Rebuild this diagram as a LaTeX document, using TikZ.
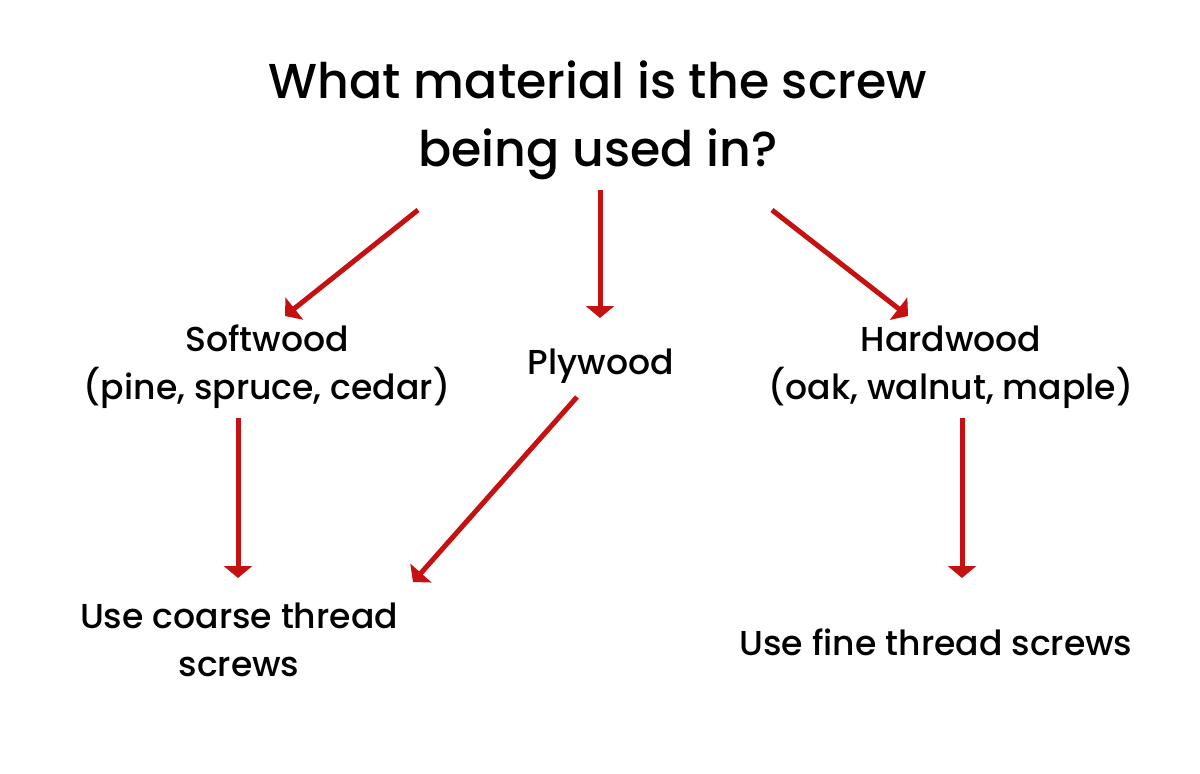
\documentclass[tikz,border=0pt]{standalone}
\usepackage{fontspec}
\setmainfont{Poppins}[UprightFont=* Medium]
\usetikzlibrary{arrows.meta}
\definecolor{arrred}{RGB}{197,17,17}
\tikzset{
  arr/.style={draw=arrred, line width=2.5pt, -{Triangle[width=14pt,length=6pt]}},
  ttl/.style={align=center, font=\fontsize{24.5}{34}\selectfont, inner sep=0pt},
  lbl/.style={align=center, font=\fontsize{17.3}{24}\selectfont, inner sep=0pt},
}
\begin{document}
\begin{tikzpicture}[x=0.5pt,y=-0.5pt]
\useasboundingbox (0,0) rectangle (1200,773);
\node[ttl] (q) at (598,120) {What material is the screw\\being used in?};
\node[lbl] (soft) at (267,367) {Softwood\\(pine, spruce, cedar)};
\node[lbl] (ply) at (601,366) {Plywood};
\node[lbl] (hard) at (951,367) {Hardwood\\(oak, walnut, maple)};
\node[lbl] (coarse) at (239,640) {Use coarse thread\\screws};
\node[lbl] (fine) at (936,642) {Use fine thread screws};
\coordinate (a1s) at (418,210); \coordinate (a1e) at (285,316);
\coordinate (a2s) at (600,190); \coordinate (a2e) at (600,318);
\coordinate (a3s) at (772,210); \coordinate (a3e) at (908,316);
\coordinate (a4s) at (238,418); \coordinate (a4e) at (238,578);
\coordinate (a5s) at (577,397); \coordinate (a5e) at (413,582);
\coordinate (a6s) at (962,418); \coordinate (a6e) at (962,578);
\draw[arr] (a1s) -- (a1e);
\draw[arr] (a2s) -- (a2e);
\draw[arr] (a3s) -- (a3e);
\draw[arr] (a4s) -- (a4e);
\draw[arr] (a5s) -- (a5e);
\draw[arr] (a6s) -- (a6e);
\end{tikzpicture}
\end{document}
